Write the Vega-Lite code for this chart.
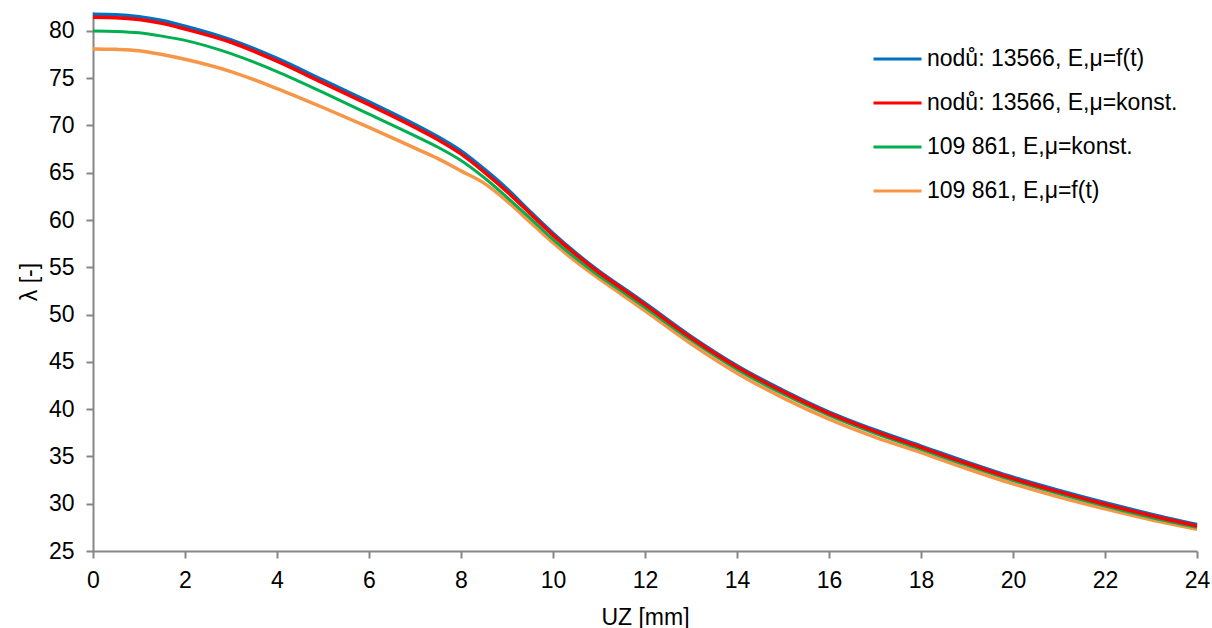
{
  "$schema": "https://vega.github.io/schema/vega-lite/v6.json",
  "autosize": {"type": "none"},
  "padding": {"left": 93, "top": 12, "right": 15, "bottom": 77},
  "width": 1104,
  "height": 539,
  "config": {
    "view": {"stroke": null},
    "font": "Liberation Sans",
    "axis": {"grid": false, "domainColor": "#868686", "domainWidth": 2, "tickColor": "#868686", "tickWidth": 2, "tickSize": 7, "labelColor": "#000000", "labelFontSize": 23, "titleFontSize": 23, "titleFontWeight": "normal", "titleColor": "#000000"}
  },
  "datasets": {
    "d": [
      {"s": "nodů: 13566, E,μ=f(t)", "x": 0, "y": 81.75}, {"s": "nodů: 13566, E,μ=f(t)", "x": 0.5, "y": 81.7}, {"s": "nodů: 13566, E,μ=f(t)", "x": 1, "y": 81.5}, {"s": "nodů: 13566, E,μ=f(t)", "x": 1.5, "y": 81.1}, {"s": "nodů: 13566, E,μ=f(t)", "x": 2, "y": 80.5}, {"s": "nodů: 13566, E,μ=f(t)", "x": 3, "y": 79.05}, {"s": "nodů: 13566, E,μ=f(t)", "x": 4, "y": 77.1}, {"s": "nodů: 13566, E,μ=f(t)", "x": 5, "y": 74.8}, {"s": "nodů: 13566, E,μ=f(t)", "x": 6, "y": 72.5}, {"s": "nodů: 13566, E,μ=f(t)", "x": 7, "y": 70.1}, {"s": "nodů: 13566, E,μ=f(t)", "x": 7.5, "y": 68.8}, {"s": "nodů: 13566, E,μ=f(t)", "x": 8, "y": 67.3}, {"s": "nodů: 13566, E,μ=f(t)", "x": 8.5, "y": 65.4}, {"s": "nodů: 13566, E,μ=f(t)", "x": 9, "y": 63.3}, {"s": "nodů: 13566, E,μ=f(t)", "x": 9.5, "y": 60.9}, {"s": "nodů: 13566, E,μ=f(t)", "x": 10, "y": 58.6}, {"s": "nodů: 13566, E,μ=f(t)", "x": 10.5, "y": 56.5}, {"s": "nodů: 13566, E,μ=f(t)", "x": 11, "y": 54.6}, {"s": "nodů: 13566, E,μ=f(t)", "x": 11.5, "y": 52.9}, {"s": "nodů: 13566, E,μ=f(t)", "x": 12, "y": 51.2}, {"s": "nodů: 13566, E,μ=f(t)", "x": 13, "y": 47.7}, {"s": "nodů: 13566, E,μ=f(t)", "x": 14, "y": 44.6}, {"s": "nodů: 13566, E,μ=f(t)", "x": 15, "y": 42.0}, {"s": "nodů: 13566, E,μ=f(t)", "x": 16, "y": 39.7}, {"s": "nodů: 13566, E,μ=f(t)", "x": 17, "y": 37.8}, {"s": "nodů: 13566, E,μ=f(t)", "x": 18, "y": 36.1}, {"s": "nodů: 13566, E,μ=f(t)", "x": 19, "y": 34.4}, {"s": "nodů: 13566, E,μ=f(t)", "x": 20, "y": 32.8}, {"s": "nodů: 13566, E,μ=f(t)", "x": 21, "y": 31.4}, {"s": "nodů: 13566, E,μ=f(t)", "x": 22, "y": 30.1}, {"s": "nodů: 13566, E,μ=f(t)", "x": 23, "y": 28.9}, {"s": "nodů: 13566, E,μ=f(t)", "x": 24, "y": 27.8},

      {"s": "nodů: 13566, E,μ=konst.", "x": 0, "y": 81.45}, {"s": "nodů: 13566, E,μ=konst.", "x": 0.5, "y": 81.4}, {"s": "nodů: 13566, E,μ=konst.", "x": 1, "y": 81.2}, {"s": "nodů: 13566, E,μ=konst.", "x": 1.5, "y": 80.8}, {"s": "nodů: 13566, E,μ=konst.", "x": 2, "y": 80.2}, {"s": "nodů: 13566, E,μ=konst.", "x": 3, "y": 78.8}, {"s": "nodů: 13566, E,μ=konst.", "x": 4, "y": 76.8}, {"s": "nodů: 13566, E,μ=konst.", "x": 5, "y": 74.5}, {"s": "nodů: 13566, E,μ=konst.", "x": 6, "y": 72.2}, {"s": "nodů: 13566, E,μ=konst.", "x": 7, "y": 69.8}, {"s": "nodů: 13566, E,μ=konst.", "x": 7.5, "y": 68.5}, {"s": "nodů: 13566, E,μ=konst.", "x": 8, "y": 67.0}, {"s": "nodů: 13566, E,μ=konst.", "x": 8.5, "y": 65.1}, {"s": "nodů: 13566, E,μ=konst.", "x": 9, "y": 63.0}, {"s": "nodů: 13566, E,μ=konst.", "x": 9.5, "y": 60.7}, {"s": "nodů: 13566, E,μ=konst.", "x": 10, "y": 58.4}, {"s": "nodů: 13566, E,μ=konst.", "x": 10.5, "y": 56.35}, {"s": "nodů: 13566, E,μ=konst.", "x": 11, "y": 54.45}, {"s": "nodů: 13566, E,μ=konst.", "x": 11.5, "y": 52.75}, {"s": "nodů: 13566, E,μ=konst.", "x": 12, "y": 51.05}, {"s": "nodů: 13566, E,μ=konst.", "x": 13, "y": 47.55}, {"s": "nodů: 13566, E,μ=konst.", "x": 14, "y": 44.45}, {"s": "nodů: 13566, E,μ=konst.", "x": 15, "y": 41.85}, {"s": "nodů: 13566, E,μ=konst.", "x": 16, "y": 39.55}, {"s": "nodů: 13566, E,μ=konst.", "x": 17, "y": 37.65}, {"s": "nodů: 13566, E,μ=konst.", "x": 18, "y": 35.95}, {"s": "nodů: 13566, E,μ=konst.", "x": 19, "y": 34.25}, {"s": "nodů: 13566, E,μ=konst.", "x": 20, "y": 32.65}, {"s": "nodů: 13566, E,μ=konst.", "x": 21, "y": 31.25}, {"s": "nodů: 13566, E,μ=konst.", "x": 22, "y": 29.95}, {"s": "nodů: 13566, E,μ=konst.", "x": 23, "y": 28.75}, {"s": "nodů: 13566, E,μ=konst.", "x": 24, "y": 27.65},

      {"s": "109 861, E,μ=konst.", "x": 0, "y": 80.0}, {"s": "109 861, E,μ=konst.", "x": 0.5, "y": 79.95}, {"s": "109 861, E,μ=konst.", "x": 1, "y": 79.8}, {"s": "109 861, E,μ=konst.", "x": 1.5, "y": 79.45}, {"s": "109 861, E,μ=konst.", "x": 2, "y": 79.0}, {"s": "109 861, E,μ=konst.", "x": 3, "y": 77.6}, {"s": "109 861, E,μ=konst.", "x": 4, "y": 75.7}, {"s": "109 861, E,μ=konst.", "x": 5, "y": 73.5}, {"s": "109 861, E,μ=konst.", "x": 6, "y": 71.2}, {"s": "109 861, E,μ=konst.", "x": 7, "y": 68.9}, {"s": "109 861, E,μ=konst.", "x": 7.5, "y": 67.7}, {"s": "109 861, E,μ=konst.", "x": 8, "y": 66.3}, {"s": "109 861, E,μ=konst.", "x": 8.5, "y": 64.5}, {"s": "109 861, E,μ=konst.", "x": 9, "y": 62.4}, {"s": "109 861, E,μ=konst.", "x": 9.5, "y": 60.2}, {"s": "109 861, E,μ=konst.", "x": 10, "y": 57.95}, {"s": "109 861, E,μ=konst.", "x": 10.5, "y": 55.95}, {"s": "109 861, E,μ=konst.", "x": 11, "y": 54.1}, {"s": "109 861, E,μ=konst.", "x": 11.5, "y": 52.45}, {"s": "109 861, E,μ=konst.", "x": 12, "y": 50.75}, {"s": "109 861, E,μ=konst.", "x": 13, "y": 47.3}, {"s": "109 861, E,μ=konst.", "x": 14, "y": 44.2}, {"s": "109 861, E,μ=konst.", "x": 15, "y": 41.6}, {"s": "109 861, E,μ=konst.", "x": 16, "y": 39.35}, {"s": "109 861, E,μ=konst.", "x": 17, "y": 37.45}, {"s": "109 861, E,μ=konst.", "x": 18, "y": 35.75}, {"s": "109 861, E,μ=konst.", "x": 19, "y": 34.05}, {"s": "109 861, E,μ=konst.", "x": 20, "y": 32.45}, {"s": "109 861, E,μ=konst.", "x": 21, "y": 31.05}, {"s": "109 861, E,μ=konst.", "x": 22, "y": 29.75}, {"s": "109 861, E,μ=konst.", "x": 23, "y": 28.55}, {"s": "109 861, E,μ=konst.", "x": 24, "y": 27.5},

      {"s": "109 861, E,μ=f(t)", "x": 0, "y": 78.1}, {"s": "109 861, E,μ=f(t)", "x": 0.5, "y": 78.05}, {"s": "109 861, E,μ=f(t)", "x": 1, "y": 77.9}, {"s": "109 861, E,μ=f(t)", "x": 1.5, "y": 77.5}, {"s": "109 861, E,μ=f(t)", "x": 2, "y": 77.0}, {"s": "109 861, E,μ=f(t)", "x": 3, "y": 75.7}, {"s": "109 861, E,μ=f(t)", "x": 4, "y": 73.9}, {"s": "109 861, E,μ=f(t)", "x": 5, "y": 71.9}, {"s": "109 861, E,μ=f(t)", "x": 6, "y": 69.8}, {"s": "109 861, E,μ=f(t)", "x": 7, "y": 67.6}, {"s": "109 861, E,μ=f(t)", "x": 7.5, "y": 66.5}, {"s": "109 861, E,μ=f(t)", "x": 8, "y": 65.2}, {"s": "109 861, E,μ=f(t)", "x": 8.5, "y": 63.9}, {"s": "109 861, E,μ=f(t)", "x": 9, "y": 62.0}, {"s": "109 861, E,μ=f(t)", "x": 9.5, "y": 59.8}, {"s": "109 861, E,μ=f(t)", "x": 10, "y": 57.6}, {"s": "109 861, E,μ=f(t)", "x": 10.5, "y": 55.6}, {"s": "109 861, E,μ=f(t)", "x": 11, "y": 53.8}, {"s": "109 861, E,μ=f(t)", "x": 11.5, "y": 52.1}, {"s": "109 861, E,μ=f(t)", "x": 12, "y": 50.4}, {"s": "109 861, E,μ=f(t)", "x": 13, "y": 46.9}, {"s": "109 861, E,μ=f(t)", "x": 14, "y": 43.8}, {"s": "109 861, E,μ=f(t)", "x": 15, "y": 41.2}, {"s": "109 861, E,μ=f(t)", "x": 16, "y": 38.95}, {"s": "109 861, E,μ=f(t)", "x": 17, "y": 37.05}, {"s": "109 861, E,μ=f(t)", "x": 18, "y": 35.4}, {"s": "109 861, E,μ=f(t)", "x": 19, "y": 33.7}, {"s": "109 861, E,μ=f(t)", "x": 20, "y": 32.1}, {"s": "109 861, E,μ=f(t)", "x": 21, "y": 30.7}, {"s": "109 861, E,μ=f(t)", "x": 22, "y": 29.45}, {"s": "109 861, E,μ=f(t)", "x": 23, "y": 28.3}, {"s": "109 861, E,μ=f(t)", "x": 24, "y": 27.3}
    ]
  },
  "data": {"name": "d"},
  "encoding": {
    "x": {"field": "x", "type": "quantitative", "title": "UZ [mm]",
      "scale": {"domain": [0, 24], "nice": false, "zero": false},
      "axis": {"values": [0,2,4,6,8,10,12,14,16,18,20,22,24], "labelPadding": 11, "titlePadding": 14, "labelFlush": false}},
    "y": {"field": "y", "type": "quantitative", "title": "λ [-]",
      "scale": {"domain": [25, 82], "nice": false, "zero": false},
      "axis": {"values": [25,30,35,40,45,50,55,60,65,70,75,80], "labelPadding": 12, "titlePadding": 7, "labelFlush": false}},
    "color": {"field": "s", "type": "nominal", "title": null,
      "scale": {"domain": ["nodů: 13566, E,μ=f(t)", "nodů: 13566, E,μ=konst.", "109 861, E,μ=konst.", "109 861, E,μ=f(t)"],
                "range": ["#0070C0", "#FF0000", "#00B050", "#F79646"]},
      "legend": {"orient": "none", "legendX": 779, "legendY": 25, "symbolType": "stroke", "symbolSize": 2304, "symbolStrokeWidth": 3, "labelFontSize": 23, "labelColor": "#000000", "labelOffset": 4, "rowPadding": 0, "clipHeight": 44, "labelLimit": 400}}
  },
  "layer": [
    {"transform": [{"filter": "datum.s === '109 861, E,μ=f(t)'"}], "mark": {"type": "line", "strokeWidth": 3.5, "interpolate": "monotone"}},
    {"transform": [{"filter": "datum.s === '109 861, E,μ=konst.'"}], "mark": {"type": "line", "strokeWidth": 3, "interpolate": "monotone"}},
    {"transform": [{"filter": "datum.s === 'nodů: 13566, E,μ=f(t)'"}], "mark": {"type": "line", "strokeWidth": 3.5, "interpolate": "monotone"}},
    {"transform": [{"filter": "datum.s === 'nodů: 13566, E,μ=konst.'"}], "mark": {"type": "line", "strokeWidth": 3.5, "interpolate": "monotone"}}
  ]
}
